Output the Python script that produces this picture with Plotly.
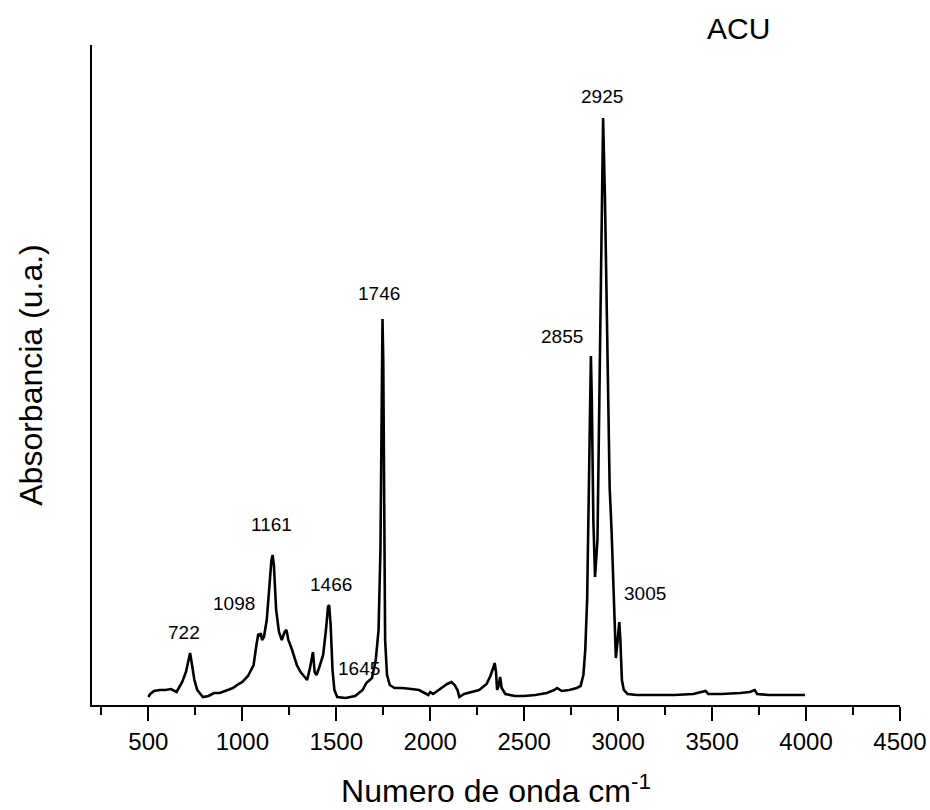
import plotly.graph_objects as go

# Wavenumber (cm-1) and absorbance (a.u.)
wavenumber = [500, 510, 530, 560, 590, 620, 650, 680, 700, 715, 722, 730, 745, 760, 790,
              820, 850, 880, 910, 950, 980, 1000, 1030, 1060, 1075, 1085, 1095, 1098, 1105,
              1115, 1130, 1145, 1155, 1161, 1168, 1180, 1195, 1210, 1225, 1235, 1245, 1265,
              1290, 1310, 1330, 1345, 1360, 1376, 1385, 1395, 1410, 1430, 1445, 1456, 1462,
              1470, 1480, 1490, 1505, 1550, 1600, 1640, 1660, 1690, 1710, 1725, 1735, 1742,
              1746, 1750, 1755, 1760, 1770, 1785, 1810, 1850, 1900, 1940, 1970, 1990, 2000,
              2015, 2030, 2060, 2090, 2113, 2130, 2145, 2155, 2180, 2220, 2260, 2300, 2320,
              2335, 2343, 2350, 2356, 2364, 2372, 2380, 2400, 2450, 2500, 2560, 2620, 2660,
              2675, 2700, 2740, 2780, 2800, 2815, 2825, 2835, 2845, 2852, 2855, 2860, 2868,
              2877, 2890, 2900, 2912, 2920, 2930, 2945, 2955, 2965, 2978, 2988, 3000, 3006,
              3012, 3020, 3030, 3050, 3100, 3200, 3300, 3400, 3465, 3480, 3550, 3650, 3700,
              3727, 3740, 3800, 3900, 3994]
absorbance = [0.008, 0.011, 0.014, 0.015, 0.015, 0.016, 0.013, 0.023, 0.033, 0.047, 0.052,
              0.043, 0.025, 0.015, 0.008, 0.009, 0.012, 0.012, 0.014, 0.017, 0.021, 0.023,
              0.029, 0.040, 0.060, 0.071, 0.069, 0.072, 0.065, 0.068, 0.085, 0.125, 0.145,
              0.150, 0.140, 0.095, 0.073, 0.065, 0.073, 0.075, 0.065, 0.055, 0.040, 0.033,
              0.029, 0.025, 0.037, 0.053, 0.033, 0.030, 0.038, 0.050, 0.075, 0.098, 0.100,
              0.080, 0.035, 0.015, 0.008, 0.007, 0.009, 0.015, 0.022, 0.027, 0.045, 0.075,
              0.155, 0.305, 0.386, 0.345, 0.185, 0.065, 0.030, 0.020, 0.017, 0.017, 0.016,
              0.015, 0.012, 0.010, 0.013, 0.011, 0.013, 0.017, 0.021, 0.023, 0.020, 0.015,
              0.008, 0.011, 0.013, 0.015, 0.021, 0.029, 0.037, 0.042, 0.033, 0.015, 0.019,
              0.028, 0.017, 0.011, 0.009, 0.009, 0.010, 0.012, 0.015, 0.017, 0.014, 0.015,
              0.017, 0.019, 0.030, 0.055, 0.105, 0.255, 0.335, 0.349, 0.305, 0.185, 0.128,
              0.165, 0.305, 0.505, 0.587, 0.505, 0.305, 0.217, 0.175, 0.105, 0.047, 0.070,
              0.083, 0.065, 0.025, 0.015, 0.011, 0.010, 0.010, 0.010, 0.011, 0.014, 0.011,
              0.011, 0.012, 0.013, 0.015, 0.011, 0.010, 0.010, 0.010]

# Peak labels and their text positions (data coordinates)
peak_labels = ["722", "1098", "1161", "1466", "1645", "1746", "2855", "2925", "3005"]
label_x = [692, 954, 1157, 1472, 1620, 1729, 2701, 2915, 3144]
label_y = [0.073, 0.102, 0.181, 0.121, 0.037, 0.412, 0.369, 0.609, 0.112]

x_ticks = [500, 1000, 1500, 2000, 2500, 3000, 3500, 4000, 4500]
x_minor = [250, 750, 1250, 1750, 2250, 2750, 3250, 3750, 4250]

FONT = "Arial, 'Liberation Sans', sans-serif"

fig = go.Figure()
fig.add_trace(go.Scatter(
    x=wavenumber, y=absorbance, mode="lines",
    line=dict(color="black", width=2.6), showlegend=False, hoverinfo="skip"))

for txt, lx, ly in zip(peak_labels, label_x, label_y):
    fig.add_annotation(x=lx, y=ly, text=txt, showarrow=False,
                       font=dict(family=FONT, size=19, color="black"),
                       xanchor="center", yanchor="middle")

fig.add_annotation(x=0.80, y=1.025, xref="paper", yref="paper", text="ACU",
                   showarrow=False, font=dict(family=FONT, size=30, color="black"),
                   xanchor="center", yanchor="middle")

fig.update_layout(
    width=930, height=810,
    margin=dict(l=92, r=30, t=45, b=105),
    plot_bgcolor="white", paper_bgcolor="white",
    font=dict(family=FONT, color="black"),
    xaxis=dict(
        range=[200, 4500], tickvals=x_ticks, ticktext=[str(v) for v in x_ticks],
        showline=True, linecolor="black", linewidth=2, mirror=False,
        ticks="outside", ticklen=14, tickwidth=2, tickcolor="black",
        minor=dict(ticks="outside", ticklen=8, tickwidth=2, tickcolor="black",
                   tickvals=x_minor),
        showgrid=False, zeroline=False, automargin=False,
        tickfont=dict(family=FONT, size=24, color="black"),
        title=dict(text="Numero de onda cm<sup>-1</sup>",
                   font=dict(family=FONT, size=32, color="black"), standoff=26),
    ),
    yaxis=dict(
        range=[0, 0.66], showline=True, linecolor="black", linewidth=2,
        showticklabels=False, ticks="", showgrid=False, zeroline=False,
        automargin=False,
        title=dict(text="Absorbancia (u.a.)",
                   font=dict(family=FONT, size=32, color="black"), standoff=38),
    ),
)

fig.write_html("out.html")
